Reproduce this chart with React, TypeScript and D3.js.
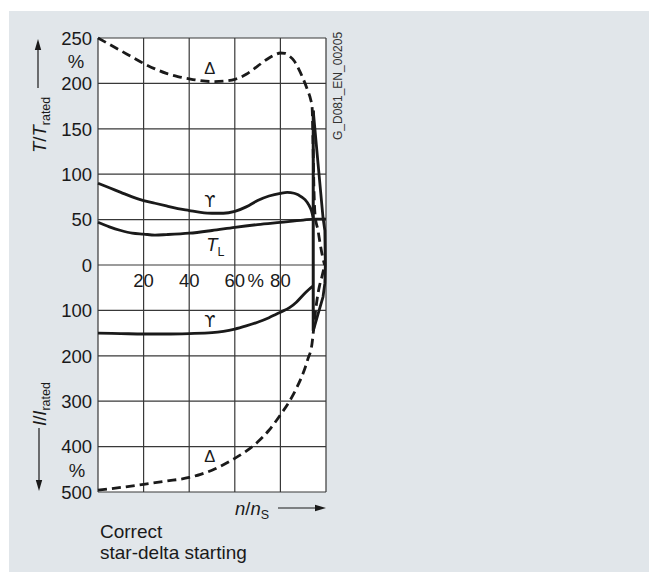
import React from 'react';
import * as d3 from 'd3';

// ---------- data (speed n/nS in %, torque T/Trated in %, current I/Irated in %) ----------
const speedGrid = [0, 20, 40, 60, 80, 100];
const speedTicks = [20, 40, 60, 80];
const speedTickLabels = ['20', '40', '60', '80'];
const torqueTicks = [0, 50, 100, 150, 200, 250];
const currentTicks = [100, 200, 300, 400, 500];

const deltaTorque: [number, number][] = [
  [0, 250], [5, 243], [10, 236], [15, 229], [20, 222], [25, 216], [30, 211], [35, 207.5],
  [40, 205], [45, 203], [50, 202], [55, 202.5], [60, 204.5], [65, 210], [70, 219], [75, 228],
  [78, 232], [80, 233.5], [82, 233], [84, 230], [86, 225], [88, 216], [90, 205], [92, 192],
  [93.3, 182], [93.9, 174], [94.3, 135], [94.7, 85], [95.2, 55], [96.5, 38], [97.4, 24],
  [98.7, 7], [99.4, 0],
];
const starTorque: [number, number][] = [
  [0, 90], [5, 85], [10, 80], [15, 75], [20, 71], [25, 68], [30, 65], [35, 62], [40, 60],
  [45, 58], [50, 57], [55, 57], [60, 59], [65, 64], [70, 71], [75, 76], [80, 79], [83, 80],
  [86, 79], [88, 77], [90.8, 72], [92.5, 66], [93.6, 60], [94.4, 52],
];
const loadTorque: [number, number][] = [
  [0, 47], [5, 42], [10, 38], [15, 35], [20, 34], [25, 33], [30, 33.5], [40, 35], [50, 38],
  [60, 41.5], [70, 44.5], [80, 47], [90, 49.5], [95, 50.5], [100, 50.5],
];
const deltaTorqueAfterSwitch: [number, number][] = [
  [94.4, 170], [96.5, 112], [98.7, 52], [99.5, 38], [99.7, 0],
];
const deltaCurrent: [number, number][] = [
  [0, 496], [10, 490], [20, 483], [30, 476], [40, 468], [45, 461], [50, 452], [55, 440],
  [60, 426], [65, 410], [70, 390], [75, 364], [80, 330], [84, 300], [87, 272], [90, 238],
  [92, 208], [93.9, 172], [94.6, 140], [95.4, 102], [96.2, 72], [97.1, 47], [98.2, 26],
  [99.1, 7], [99.5, 0],
];
const starCurrent: [number, number][] = [
  [0, 150], [10, 151], [20, 152], [30, 152], [40, 151], [50, 149], [55, 146], [60, 141],
  [65, 134], [70, 126], [75, 116], [80, 104], [84, 94], [87, 82], [90, 66], [92, 56],
  [94.4, 46],
];
const deltaCurrentAfterSwitch: [number, number][] = [
  [94.4, 145], [96.5, 108], [98.7, 70], [99.5, 40], [99.7, 0],
];
const switchSpeed = 94.4;
const switchTorque = 170;
const switchCurrent = 145;

// ---------- layout ----------
const W = 649;
const H = 572;
const x = d3.scaleLinear().domain([0, 100]).range([98, 326]);
const yT = d3.scaleLinear().domain([0, 250]).range([265, 38]);
const yI = d3.scaleLinear().domain([0, 500]).range([265, 492]);

const FONT = 'Arial, "Liberation Sans", Helvetica, sans-serif';
const INK = '#1a1a1a';
const GRID = '#383838';
const FS = 18.5;

const torqueLine = d3.line<[number, number]>().x(d => x(d[0])).y(d => yT(d[1])).curve(d3.curveMonotoneX);
const currentLine = d3.line<[number, number]>().x(d => x(d[0])).y(d => yI(d[1])).curve(d3.curveMonotoneX);
const straightT = d3.line<[number, number]>().x(d => x(d[0])).y(d => yT(d[1]));
const straightI = d3.line<[number, number]>().x(d => x(d[0])).y(d => yI(d[1]));

function Arrow({ x1, y1, x2, y2 }: { x1: number; y1: number; x2: number; y2: number }) {
  const ang = Math.atan2(y2 - y1, x2 - x1);
  const L = 11, Wd = 3.2;
  const bx = x2 - L * Math.cos(ang), by = y2 - L * Math.sin(ang);
  const px = -Math.sin(ang) * Wd, py = Math.cos(ang) * Wd;
  return (
    <g>
      <line x1={x1} y1={y1} x2={bx} y2={by} stroke={INK} strokeWidth={1.2} />
      <path d={`M${x2},${y2}L${bx + px},${by + py}L${bx - px},${by - py}Z`} fill={INK} />
    </g>
  );
}

export default function App() {
  return (
    <svg width={W} height={H} style={{ position: 'absolute', left: 0, top: 0 }} fontFamily={FONT}>
      <rect x={0} y={0} width={W} height={H} fill="#ffffff" />
      <rect x={9} y={11} width={W - 9} height={H - 11} fill="#e1e6ea" />
      {/* plot area */}
      <rect x={x(0)} y={yT(250)} width={x(100) - x(0)} height={yI(500) - yT(250)} fill="#ffffff" />
      {/* grid */}
      {speedGrid.map(s => (
        <line key={'v' + s} x1={x(s)} x2={x(s)} y1={yT(250)} y2={yI(500)} stroke={GRID} strokeWidth={1.2} />
      ))}
      {torqueTicks.map(t => (
        <line key={'t' + t} x1={x(0)} x2={x(100)} y1={yT(t)} y2={yT(t)} stroke={GRID} strokeWidth={1.2} />
      ))}
      {currentTicks.map(c => (
        <line key={'c' + c} x1={x(0)} x2={x(100)} y1={yI(c)} y2={yI(c)} stroke={GRID} strokeWidth={1.2} />
      ))}

      {/* tick labels */}
      {torqueTicks.map(t => (
        <text key={'tl' + t} x={92} y={yT(t) + 6.8} fontSize={FS} textAnchor="end" fill={INK}>{t}</text>
      ))}
      {currentTicks.map(c => (
        <text key={'cl' + c} x={92} y={yI(c) + 6.8} fontSize={FS} textAnchor="end" fill={INK}>{c}</text>
      ))}
      <text x={76} y={68} fontSize={FS} textAnchor="middle" fill={INK}>%</text>
      <text x={77} y={477} fontSize={FS} textAnchor="middle" fill={INK}>%</text>
      {speedTicks.map((s, i) => (
        <text key={'sl' + s} x={x(s)} y={287} fontSize={FS} textAnchor="middle" fill={INK}>{speedTickLabels[i]}</text>
      ))}
      <text x={x(60) + 21} y={287} fontSize={FS} textAnchor="middle" fill={INK}>%</text>

      {/* curves */}
      <path d={torqueLine(deltaTorque) || ''} fill="none" stroke={INK} strokeWidth={2.8} strokeDasharray="9 5" />
      <path d={currentLine(deltaCurrent) || ''} fill="none" stroke={INK} strokeWidth={2.8} strokeDasharray="9 5" />
      <path d={torqueLine(starTorque) || ''} fill="none" stroke={INK} strokeWidth={2.8} />
      <path d={torqueLine(loadTorque) || ''} fill="none" stroke={INK} strokeWidth={2.8} />
      <path d={currentLine(starCurrent) || ''} fill="none" stroke={INK} strokeWidth={2.8} />
      <path d={straightT(deltaTorqueAfterSwitch) || ''} fill="none" stroke={INK} strokeWidth={2.8} strokeLinejoin="round" />
      <path d={straightI(deltaCurrentAfterSwitch) || ''} fill="none" stroke={INK} strokeWidth={2.8} strokeLinejoin="round" />
      <line x1={x(switchSpeed)} x2={x(switchSpeed)} y1={yT(switchTorque)} y2={yI(switchCurrent)} stroke={INK} strokeWidth={3} />

      {/* curve labels */}
      <text x={x(49)} y={yT(210)} fontSize={16.5} textAnchor="middle" fill={INK}>Δ</text>
      <text x={x(49)} y={yT(64)} fontSize={16} textAnchor="middle" fill={INK} fontFamily="DejaVu Sans">ϒ</text>
      <text x={x(47.5)} y={yT(15.5)} fontSize={FS} fill={INK}>
        <tspan fontStyle="italic">T</tspan>
        <tspan fontSize={12.5} dy={5}>L</tspan>
      </text>
      <text x={x(49)} y={yI(137)} fontSize={16} textAnchor="middle" fill={INK} fontFamily="DejaVu Sans">ϒ</text>
      <text x={x(49)} y={yI(434)} fontSize={16.5} textAnchor="middle" fill={INK}>Δ</text>

      {/* axis titles */}
      <Arrow x1={38} y1={88} x2={38} y2={39} />
      <text transform="translate(46,153) rotate(-90)" fontSize={FS} fill={INK}>
        <tspan fontStyle="italic">T</tspan><tspan>/</tspan><tspan fontStyle="italic">T</tspan>
        <tspan fontSize={12.5} dy={4}>rated</tspan>
      </text>
      <Arrow x1={39} y1={428} x2={39} y2={491} />
      <text transform="translate(46,426) rotate(-90)" fontSize={FS} fill={INK}>
        <tspan fontStyle="italic">I</tspan><tspan>/</tspan><tspan fontStyle="italic">I</tspan>
        <tspan fontSize={12.5} dy={4}>rated</tspan>
      </text>
      <text x={235} y={515} fontSize={FS} fill={INK}>
        <tspan fontStyle="italic">n</tspan><tspan>/</tspan><tspan fontStyle="italic">n</tspan>
        <tspan fontSize={12.5} dy={4}>S</tspan>
      </text>
      <Arrow x1={278} y1={508} x2={326} y2={508} />

      <text transform="translate(342,140) rotate(-90)" fontSize={12} fill="#333">G_D081_EN_00205</text>

      <text x={100} y={538} fontSize={19} fill={INK}>Correct</text>
      <text x={100} y={559} fontSize={19} fill={INK}>star-delta starting</text>
    </svg>
  );
}
